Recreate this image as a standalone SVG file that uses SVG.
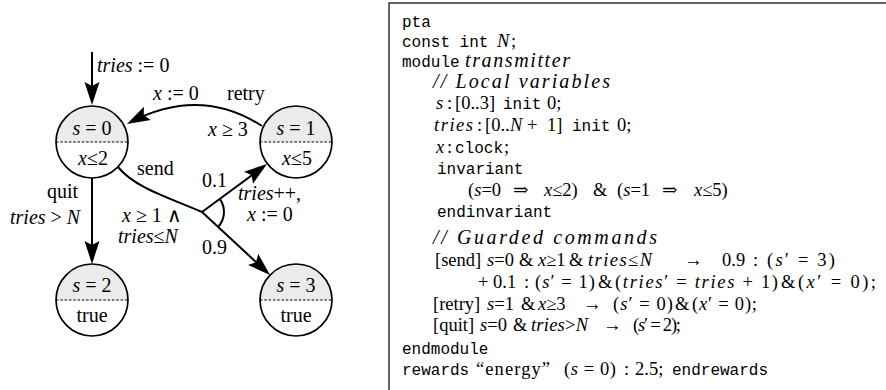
<svg xmlns="http://www.w3.org/2000/svg" width="886" height="390" viewBox="0 0 886 390">
<style>
.lbl{font-family:"Liberation Serif",serif;font-size:20px;fill:#000}
.it{font-style:italic}
.m{font-family:"Liberation Serif","DejaVu Serif",serif;font-size:18.5px;fill:#000}
.cm{font-family:"Liberation Serif",serif;font-size:20px;font-style:italic;fill:#000}
.tt{font-family:"Liberation Mono",monospace;font-size:16px;fill:#000}
.ring{fill:none;stroke:#000;stroke-width:1.7}
.top{fill:#ebebeb;stroke:none}
.dash{stroke:#000;stroke-width:1.2;stroke-dasharray:2.5 1.8}
.edge{fill:none;stroke:#000;stroke-width:2}
</style>
<defs>
<marker id="ah" markerUnits="userSpaceOnUse" markerWidth="26" markerHeight="18" refX="19" refY="8" orient="auto">
<path d="M0,0.5 L23,8 L0,15.5 L4,8 Z" fill="#000"/>
</marker>
</defs>

<g id="connectors">
<path class="edge" d="M92,52 L92,101" marker-end="url(#ah)"/>
<path class="edge" d="M262,126 Q200,86 130.5,122.2" marker-end="url(#ah)"/>
<path class="edge" d="M92,178 L92,260" marker-end="url(#ah)"/>
<path class="edge" d="M118,167 C135,188 170,198 202,212"/>
<path class="edge" d="M202,212 L263.8,166.4" marker-end="url(#ah)"/>
<path class="edge" d="M202,212 L267.1,272.3" marker-end="url(#ah)"/>
<path class="edge" d="M219.9,199.2 A22,22 0 0 1 218.1,226.9"/>
<text class="lbl" x="97" y="72"><tspan class="it">tries</tspan> := 0</text>
<text class="lbl" x="153" y="100"><tspan class="it">x</tspan> := 0</text>
<text class="lbl" x="227" y="100">retry</text>
<text class="lbl" x="208" y="136"><tspan class="it">x</tspan> ≥ 3</text>
<text class="lbl" x="137" y="175">send</text>
<text class="lbl" x="202" y="187">0.1</text>
<text class="lbl" x="238" y="200"><tspan class="it">tries</tspan>++,</text>
<text class="lbl" x="247" y="221"><tspan class="it">x</tspan> := 0</text>
<text class="lbl" x="122" y="222"><tspan class="it">x</tspan> ≥ 1  ∧</text>
<text class="lbl" x="118" y="243"><tspan class="it">tries</tspan>≤<tspan class="it">N</tspan></text>
<text class="lbl" x="202" y="254">0.9</text>
<text class="lbl" x="47" y="198">quit</text>
<text class="lbl" x="10" y="224"><tspan class="it">tries</tspan> &gt; <tspan class="it">N</tspan></text>
</g>

<g id="s0">
<path class="top" d="M56,142 A36,36 0 0 1 128,142 Z"/>
<line class="dash" x1="56" y1="142" x2="128" y2="142"/>
<circle class="ring" cx="92" cy="142" r="36"/>
<text class="lbl" x="92" y="135" text-anchor="middle"><tspan class="it">s</tspan> = 0</text>
<text class="lbl" x="93" y="165" text-anchor="middle"><tspan class="it">x</tspan>≤2</text>
</g>
<g id="s1">
<path class="top" d="M260,142 A36,36 0 0 1 332,142 Z"/>
<line class="dash" x1="260" y1="142" x2="332" y2="142"/>
<circle class="ring" cx="296" cy="142" r="36"/>
<text class="lbl" x="296" y="135" text-anchor="middle"><tspan class="it">s</tspan> = 1</text>
<text class="lbl" x="297" y="165" text-anchor="middle"><tspan class="it">x</tspan>≤5</text>
</g>
<g id="s2">
<path class="top" d="M56,300 A36,36 0 0 1 128,300 Z"/>
<line class="dash" x1="56" y1="300" x2="128" y2="300"/>
<circle class="ring" cx="92" cy="300" r="36"/>
<text class="lbl" x="92" y="292" text-anchor="middle"><tspan class="it">s</tspan> = 2</text>
<text class="lbl" x="92" y="322" text-anchor="middle">true</text>
</g>
<g id="s3">
<path class="top" d="M260,300 A36,36 0 0 1 332,300 Z"/>
<line class="dash" x1="260" y1="300" x2="332" y2="300"/>
<circle class="ring" cx="296" cy="300" r="36"/>
<text class="lbl" x="296" y="292" text-anchor="middle"><tspan class="it">s</tspan> = 3</text>
<text class="lbl" x="296" y="322" text-anchor="middle">true</text>
</g>

<g id="code">
<rect x="389" y="3" width="600" height="500" fill="none" stroke="#000" stroke-width="1.2"/>
<text class="tt" x="402" y="27">pta</text>
<text class="tt" x="402" y="47">const int</text>
<text class="m" x="497" y="47"><tspan class="it">N</tspan><tspan x="511">;</tspan></text>
<text class="tt" x="402" y="67">module</text>
<text class="cm" x="465" y="67" textLength="105" lengthAdjust="spacing">transmitter</text>
<text class="cm" x="433" y="88" textLength="177" lengthAdjust="spacing">// Local variables</text>
<text class="m it" x="436" y="109">s</text><text class="m" x="447" y="109">:</text><text class="m" x="455" y="109">[0..3]</text>
<text class="tt" x="503" y="109">init</text><text class="m" x="547" y="109">0;</text>
<text class="m it" x="434" y="131" textLength="39" lengthAdjust="spacing">tries</text><text class="m" x="477" y="131">:</text>
<text class="m" x="485" y="131">[0..</text><text class="m it" x="510" y="131">N</text><text class="m" x="527" y="131">+</text><text class="m" x="547" y="131">1]</text>
<text class="tt" x="572" y="131">init</text><text class="m" x="617" y="131">0;</text>
<text class="m it" x="436" y="153">x</text><text class="m" x="447" y="153">:</text><text class="tt" x="455" y="153">clock</text><text class="m" x="504" y="153">;</text>
<text class="tt" x="437" y="174">invariant</text>

<text class="m" x="468" y="196">(<tspan class="it">s</tspan>=0</text>
<text class="m" x="513" y="196">⇒</text>
<text class="m" x="544" y="196"><tspan class="it">x</tspan>≤2)</text>
<text class="m" x="593" y="196">&amp;</text>
<text class="m" x="617" y="196">(<tspan class="it">s</tspan>=1</text>
<text class="m" x="662" y="196">⇒</text>
<text class="m" x="694" y="196"><tspan class="it">x</tspan>≤5)</text>

<text class="tt" x="437" y="217">endinvariant</text>
<text class="cm" x="433" y="244" textLength="224" lengthAdjust="spacing">// Guarded commands</text>

<text class="m" x="435" y="266">[send]</text>
<text class="m" x="487" y="266"><tspan class="it">s</tspan>=0</text>
<text class="m" x="519" y="266">&amp;</text>
<text class="m" x="538" y="266"><tspan class="it">x</tspan>≥1</text>
<text class="m" x="569" y="266">&amp;</text>
<text class="m" x="588" y="266" textLength="64" lengthAdjust="spacing"><tspan class="it">tries</tspan>≤<tspan class="it">N</tspan></text>
<text class="m" x="684" y="266">→</text>
<text class="m" x="722" y="266">0.9</text>
<text class="m" x="753" y="266">:</text>
<text class="m" x="767" y="266" textLength="68" lengthAdjust="spacing">(<tspan class="it">s</tspan>′ = 3)</text>

<text class="m" x="478" y="288">+</text>
<text class="m" x="493" y="288">0.1</text>
<text class="m" x="524" y="288">:</text>
<text class="m" x="535" y="288" textLength="60" lengthAdjust="spacing">(<tspan class="it">s</tspan>′ = 1)</text>
<text class="m" x="598" y="288">&amp;</text>
<text class="m" x="615" y="288" textLength="163" lengthAdjust="spacing">(<tspan class="it">tries</tspan>′ = <tspan class="it">tries</tspan> + 1)</text>
<text class="m" x="781" y="288">&amp;</text>
<text class="m" x="798" y="288" textLength="78" lengthAdjust="spacing">(<tspan class="it">x</tspan>′ = 0);</text>

<text class="m" x="433" y="310">[retry]</text>
<text class="m" x="487" y="310"><tspan class="it">s</tspan>=1</text>
<text class="m" x="521" y="310">&amp;</text>
<text class="m" x="538" y="310"><tspan class="it">x</tspan>≥3</text>
<text class="m" x="583" y="310">→</text>
<text class="m" x="613" y="310" textLength="60" lengthAdjust="spacing">(<tspan class="it">s</tspan>′ = 0)</text>
<text class="m" x="675" y="310">&amp;</text>
<text class="m" x="692" y="310" textLength="65" lengthAdjust="spacing">(<tspan class="it">x</tspan>′ = 0);</text>

<text class="m" x="433" y="331">[quit]</text>
<text class="m" x="480" y="331"><tspan class="it">s</tspan>=0</text>
<text class="m" x="513" y="331">&amp;</text>
<text class="m" x="531" y="331" textLength="57" lengthAdjust="spacing"><tspan class="it">tries</tspan>&gt;<tspan class="it">N</tspan></text>
<text class="m" x="603" y="331">→</text>
<text class="m" x="633" y="331" textLength="48" lengthAdjust="spacing">(<tspan class="it">s</tspan>′ = 2);</text>

<text class="tt" x="402" y="354">endmodule</text>
<text class="tt" x="402" y="375">rewards</text>
<text class="m" x="476" y="375" textLength="74" lengthAdjust="spacing">“energy”</text>
<text class="m" x="564" y="375" textLength="52" lengthAdjust="spacing">(<tspan class="it">s</tspan> = 0)</text>
<text class="m" x="624" y="375">:</text>
<text class="m" x="635" y="375">2.5;</text>
<text class="tt" x="672" y="375">endrewards</text>
</g>
</svg>
